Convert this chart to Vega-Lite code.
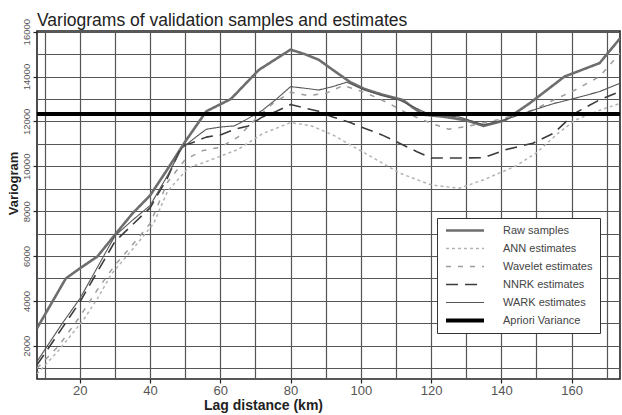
{
  "$schema": "https://vega.github.io/schema/vega-lite/v6.json",
  "width": 583,
  "height": 348,
  "autosize": {"type": "none"},
  "padding": {"left": 37, "top": 31, "right": 2, "bottom": 36},
  "background": "white",
  "title": {
    "text": "Variograms of validation samples and estimates",
    "anchor": "start",
    "frame": "group",
    "font": "Liberation Sans",
    "fontSize": 17.5,
    "fontWeight": "normal",
    "color": "#222222",
    "baseline": "alphabetic",
    "offset": 0,
    "dy": 25
  },
  "datasets": {
    "curves": [
      {"series": "Raw samples", "lag": 7.8, "v": 2780},
      {"series": "Raw samples", "lag": 16, "v": 5000},
      {"series": "Raw samples", "lag": 20, "v": 5450},
      {"series": "Raw samples", "lag": 25, "v": 5980},
      {"series": "Raw samples", "lag": 30, "v": 6950},
      {"series": "Raw samples", "lag": 35, "v": 7900},
      {"series": "Raw samples", "lag": 40, "v": 8700},
      {"series": "Raw samples", "lag": 45, "v": 9880},
      {"series": "Raw samples", "lag": 50, "v": 11100},
      {"series": "Raw samples", "lag": 56, "v": 12450},
      {"series": "Raw samples", "lag": 63, "v": 13000},
      {"series": "Raw samples", "lag": 71, "v": 14300},
      {"series": "Raw samples", "lag": 80, "v": 15200},
      {"series": "Raw samples", "lag": 84, "v": 15000},
      {"series": "Raw samples", "lag": 88, "v": 14750},
      {"series": "Raw samples", "lag": 92, "v": 14300},
      {"series": "Raw samples", "lag": 97, "v": 13750},
      {"series": "Raw samples", "lag": 101, "v": 13450},
      {"series": "Raw samples", "lag": 106, "v": 13200},
      {"series": "Raw samples", "lag": 112, "v": 12950},
      {"series": "Raw samples", "lag": 115, "v": 12600},
      {"series": "Raw samples", "lag": 118, "v": 12300},
      {"series": "Raw samples", "lag": 124, "v": 12200},
      {"series": "Raw samples", "lag": 130, "v": 12050},
      {"series": "Raw samples", "lag": 135, "v": 11800},
      {"series": "Raw samples", "lag": 141, "v": 12050},
      {"series": "Raw samples", "lag": 148, "v": 12800},
      {"series": "Raw samples", "lag": 158, "v": 14000},
      {"series": "Raw samples", "lag": 168, "v": 14600},
      {"series": "Raw samples", "lag": 173.8, "v": 15700},

      {"series": "ANN estimates", "lag": 7.8, "v": 750},
      {"series": "ANN estimates", "lag": 14, "v": 1800},
      {"series": "ANN estimates", "lag": 21, "v": 3150},
      {"series": "ANN estimates", "lag": 25, "v": 4100},
      {"series": "ANN estimates", "lag": 29, "v": 5200},
      {"series": "ANN estimates", "lag": 35, "v": 6300},
      {"series": "ANN estimates", "lag": 41, "v": 7450},
      {"series": "ANN estimates", "lag": 45, "v": 8900},
      {"series": "ANN estimates", "lag": 51, "v": 9950},
      {"series": "ANN estimates", "lag": 55, "v": 10150},
      {"series": "ANN estimates", "lag": 60, "v": 10450},
      {"series": "ANN estimates", "lag": 65, "v": 10750},
      {"series": "ANN estimates", "lag": 72, "v": 11450},
      {"series": "ANN estimates", "lag": 80, "v": 11950},
      {"series": "ANN estimates", "lag": 86, "v": 11800},
      {"series": "ANN estimates", "lag": 92, "v": 11400},
      {"series": "ANN estimates", "lag": 101, "v": 10600},
      {"series": "ANN estimates", "lag": 111, "v": 9700},
      {"series": "ANN estimates", "lag": 120, "v": 9170},
      {"series": "ANN estimates", "lag": 128, "v": 9020},
      {"series": "ANN estimates", "lag": 135, "v": 9400},
      {"series": "ANN estimates", "lag": 144, "v": 10000},
      {"series": "ANN estimates", "lag": 150, "v": 10600},
      {"series": "ANN estimates", "lag": 156, "v": 11450},
      {"series": "ANN estimates", "lag": 161, "v": 12050},
      {"series": "ANN estimates", "lag": 168, "v": 12500},
      {"series": "ANN estimates", "lag": 173.8, "v": 12800},

      {"series": "Wavelet estimates", "lag": 7.8, "v": 1000},
      {"series": "Wavelet estimates", "lag": 14, "v": 2000},
      {"series": "Wavelet estimates", "lag": 20, "v": 3300},
      {"series": "Wavelet estimates", "lag": 25, "v": 4500},
      {"series": "Wavelet estimates", "lag": 30, "v": 5600},
      {"series": "Wavelet estimates", "lag": 35, "v": 6500},
      {"series": "Wavelet estimates", "lag": 40, "v": 7450},
      {"series": "Wavelet estimates", "lag": 45, "v": 9300},
      {"series": "Wavelet estimates", "lag": 50, "v": 10300},
      {"series": "Wavelet estimates", "lag": 55, "v": 10700},
      {"series": "Wavelet estimates", "lag": 60, "v": 10850},
      {"series": "Wavelet estimates", "lag": 65, "v": 11300},
      {"series": "Wavelet estimates", "lag": 70, "v": 12100},
      {"series": "Wavelet estimates", "lag": 75, "v": 12800},
      {"series": "Wavelet estimates", "lag": 80, "v": 13300},
      {"series": "Wavelet estimates", "lag": 85, "v": 13150},
      {"series": "Wavelet estimates", "lag": 90, "v": 13250},
      {"series": "Wavelet estimates", "lag": 95, "v": 13600},
      {"series": "Wavelet estimates", "lag": 100, "v": 13350},
      {"series": "Wavelet estimates", "lag": 104, "v": 13100},
      {"series": "Wavelet estimates", "lag": 108, "v": 12800},
      {"series": "Wavelet estimates", "lag": 114, "v": 12300},
      {"series": "Wavelet estimates", "lag": 120, "v": 11920},
      {"series": "Wavelet estimates", "lag": 125, "v": 11650},
      {"series": "Wavelet estimates", "lag": 130, "v": 11770},
      {"series": "Wavelet estimates", "lag": 139, "v": 12070},
      {"series": "Wavelet estimates", "lag": 149, "v": 12500},
      {"series": "Wavelet estimates", "lag": 155, "v": 12960},
      {"series": "Wavelet estimates", "lag": 161, "v": 13400},
      {"series": "Wavelet estimates", "lag": 168, "v": 14000},
      {"series": "Wavelet estimates", "lag": 173.8, "v": 15040},

      {"series": "NNRK estimates", "lag": 7.8, "v": 1150},
      {"series": "NNRK estimates", "lag": 15, "v": 2800},
      {"series": "NNRK estimates", "lag": 20, "v": 3950},
      {"series": "NNRK estimates", "lag": 25, "v": 5300},
      {"series": "NNRK estimates", "lag": 30, "v": 6650},
      {"series": "NNRK estimates", "lag": 35, "v": 7400},
      {"series": "NNRK estimates", "lag": 40, "v": 8150},
      {"series": "NNRK estimates", "lag": 45, "v": 9500},
      {"series": "NNRK estimates", "lag": 49, "v": 10900},
      {"series": "NNRK estimates", "lag": 52, "v": 11050},
      {"series": "NNRK estimates", "lag": 56, "v": 11300},
      {"series": "NNRK estimates", "lag": 60, "v": 11400},
      {"series": "NNRK estimates", "lag": 64, "v": 11650},
      {"series": "NNRK estimates", "lag": 68, "v": 11800},
      {"series": "NNRK estimates", "lag": 72, "v": 12200},
      {"series": "NNRK estimates", "lag": 76, "v": 12450},
      {"series": "NNRK estimates", "lag": 80, "v": 12750},
      {"series": "NNRK estimates", "lag": 84, "v": 12600},
      {"series": "NNRK estimates", "lag": 88, "v": 12450},
      {"series": "NNRK estimates", "lag": 92, "v": 12200},
      {"series": "NNRK estimates", "lag": 97, "v": 11950},
      {"series": "NNRK estimates", "lag": 101, "v": 11700},
      {"series": "NNRK estimates", "lag": 106, "v": 11400},
      {"series": "NNRK estimates", "lag": 111, "v": 11030},
      {"series": "NNRK estimates", "lag": 116, "v": 10650},
      {"series": "NNRK estimates", "lag": 120, "v": 10370},
      {"series": "NNRK estimates", "lag": 128, "v": 10370},
      {"series": "NNRK estimates", "lag": 135, "v": 10380},
      {"series": "NNRK estimates", "lag": 141, "v": 10730},
      {"series": "NNRK estimates", "lag": 149, "v": 11030},
      {"series": "NNRK estimates", "lag": 155, "v": 11480},
      {"series": "NNRK estimates", "lag": 161, "v": 12370},
      {"series": "NNRK estimates", "lag": 168, "v": 12960},
      {"series": "NNRK estimates", "lag": 173.8, "v": 13330},

      {"series": "WARK estimates", "lag": 7.8, "v": 1300},
      {"series": "WARK estimates", "lag": 15, "v": 3000},
      {"series": "WARK estimates", "lag": 20, "v": 4100},
      {"series": "WARK estimates", "lag": 25, "v": 5500},
      {"series": "WARK estimates", "lag": 30, "v": 6900},
      {"series": "WARK estimates", "lag": 35, "v": 7600},
      {"series": "WARK estimates", "lag": 40, "v": 8250},
      {"series": "WARK estimates", "lag": 45, "v": 9600},
      {"series": "WARK estimates", "lag": 49, "v": 10800},
      {"series": "WARK estimates", "lag": 53, "v": 11300},
      {"series": "WARK estimates", "lag": 56, "v": 11650},
      {"series": "WARK estimates", "lag": 60, "v": 11750},
      {"series": "WARK estimates", "lag": 64, "v": 11800},
      {"series": "WARK estimates", "lag": 67, "v": 12050},
      {"series": "WARK estimates", "lag": 72, "v": 12500},
      {"series": "WARK estimates", "lag": 76, "v": 13000},
      {"series": "WARK estimates", "lag": 80, "v": 13550},
      {"series": "WARK estimates", "lag": 84, "v": 13480},
      {"series": "WARK estimates", "lag": 88, "v": 13400},
      {"series": "WARK estimates", "lag": 92, "v": 13550},
      {"series": "WARK estimates", "lag": 96, "v": 13750},
      {"series": "WARK estimates", "lag": 101, "v": 13400},
      {"series": "WARK estimates", "lag": 106, "v": 13150},
      {"series": "WARK estimates", "lag": 111, "v": 12950},
      {"series": "WARK estimates", "lag": 115, "v": 12650},
      {"series": "WARK estimates", "lag": 119, "v": 12350},
      {"series": "WARK estimates", "lag": 124, "v": 12250},
      {"series": "WARK estimates", "lag": 128, "v": 12200},
      {"series": "WARK estimates", "lag": 135, "v": 11850},
      {"series": "WARK estimates", "lag": 141, "v": 12070},
      {"series": "WARK estimates", "lag": 149, "v": 12500},
      {"series": "WARK estimates", "lag": 155, "v": 12800},
      {"series": "WARK estimates", "lag": 161, "v": 13030},
      {"series": "WARK estimates", "lag": 168, "v": 13330},
      {"series": "WARK estimates", "lag": 173.8, "v": 13700},

      {"series": "Apriori Variance", "lag": 7.8, "v": 12330},
      {"series": "Apriori Variance", "lag": 173.8, "v": 12330}
    ]
  },
  "data": {"name": "curves"},
  "mark": {"type": "line", "clip": true, "strokeCap": "butt", "strokeJoin": "round"},
  "encoding": {
    "x": {
      "field": "lag",
      "type": "quantitative",
      "scale": {"domain": [7.8, 173.8], "nice": false, "zero": false},
      "axis": {
        "values": [10, 20, 30, 40, 50, 60, 70, 80, 90, 100, 110, 120, 130, 140, 150, 160, 170],
        "labelExpr": "datum.value % 20 === 0 ? datum.label : ''",
        "tickOpacity": {"condition": {"test": "datum.value % 20 === 0", "value": 1}, "value": 0},
        "labelFontSize": 13,
        "labelPadding": 1,
        "title": "Lag distance (km)",
        "titleX": 226,
        "titleY": 26,
        "titleAlign": "center",
        "titleBaseline": "middle"
      }
    },
    "y": {
      "field": "v",
      "type": "quantitative",
      "scale": {"domain": [520, 16030], "nice": false, "zero": false},
      "axis": {
        "values": [1000, 2000, 3000, 4000, 5000, 6000, 7000, 8000, 9000, 10000, 11000, 12000, 13000, 14000, 15000, 16000],
        "format": "d",
        "labelExpr": "datum.value % 2000 === 0 ? datum.label : ''",
        "tickOpacity": {"condition": {"test": "datum.value % 2000 === 0", "value": 1}, "value": 0},
        "labelAngle": -90,
        "labelAlign": "center",
        "labelBaseline": "bottom",
        "labelFont": "Liberation Sans",
        "labelFontSize": 9.5,
        "title": "Variogram",
        "titleFontSize": 13,
        "titleX": -24,
        "titleY": 152,
        "titleAngle": -90,
        "titleAlign": "center",
        "titleBaseline": "middle"
      }
    },
    "color": {
      "field": "series",
      "type": "nominal",
      "scale": {
        "domain": ["Raw samples", "ANN estimates", "Wavelet estimates", "NNRK estimates", "WARK estimates", "Apriori Variance"],
        "range": ["#6e6e6e", "#b3b3b3", "#9c9c9c", "#3c3c3c", "#555555", "#000000"]
      },
      "legend": {"title": null}
    },
    "strokeDash": {
      "field": "series",
      "type": "nominal",
      "scale": {
        "domain": ["Raw samples", "ANN estimates", "Wavelet estimates", "NNRK estimates", "WARK estimates", "Apriori Variance"],
        "range": [[1, 0], [3, 3], [5, 7], [12, 7], [1, 0], [1, 0]]
      },
      "legend": {"title": null}
    },
    "strokeWidth": {
      "field": "series",
      "type": "nominal",
      "scale": {
        "type": "ordinal",
        "domain": ["Raw samples", "ANN estimates", "Wavelet estimates", "NNRK estimates", "WARK estimates", "Apriori Variance"],
        "range": [2.6, 1.5, 1.5, 1.6, 1.1, 4]
      },
      "legend": {"title": null}
    }
  },
  "config": {
    "font": "Liberation Sans",
    "view": {"stroke": "#222222", "strokeWidth": 1.6},
    "axis": {
      "grid": true,
      "gridColor": "#555555",
      "gridWidth": 1.2,
      "gridOpacity": 1,
      "domain": false,
      "tickSize": 4,
      "tickColor": "#222222",
      "tickWidth": 1.2,
      "labelFont": "Liberation Sans",
      "labelFontSize": 14,
      "labelColor": "#555555",
      "labelPadding": 2,
      "titleFont": "Liberation Sans",
      "titleFontSize": 14,
      "titleFontWeight": "bold",
      "titleColor": "#222222"
    },
    "legend": {
      "orient": "none",
      "legendX": 400,
      "legendY": 187,
      "symbolType": "stroke",
      "symbolSize": 1444,
      "clipHeight": 11,
      "labelFont": "Liberation Sans",
      "labelFontSize": 11,
      "labelColor": "#444444",
      "labelOffset": 17,
      "padding": 7,
      "rowPadding": 6,
      "strokeColor": "#333333",
      "fillColor": "white",
      "labelLimit": 200
    }
  }
}
